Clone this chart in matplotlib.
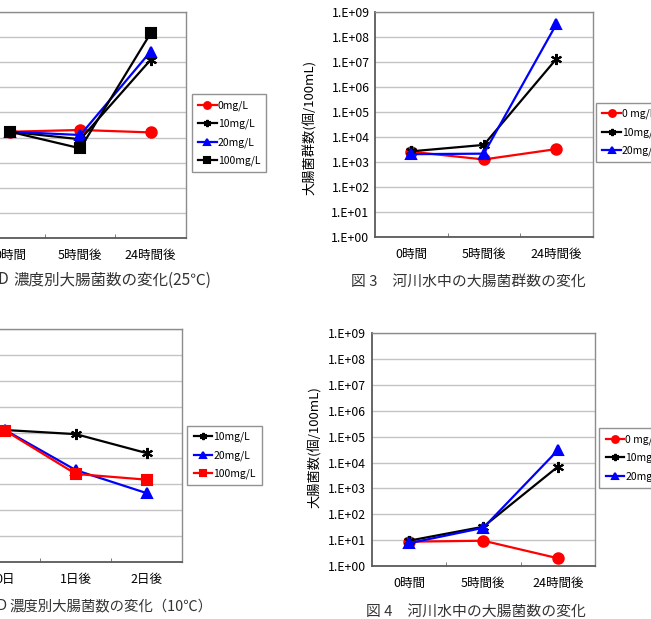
import numpy as np
import matplotlib
matplotlib.use("Agg")
import matplotlib.pyplot as plt
from matplotlib.ticker import FixedLocator, FuncFormatter, NullLocator

plt.rcParams['font.family'] = ['Noto Sans CJK JP', 'DejaVu Sans']

W, H = 651, 619

# --- data ---
time_labels = ['0時間', '5時間後', '24時間後']
day_labels = ['0日', '1日後', '2日後']

# fig 1: 25C, by concentration
f1_names = ['0mg/L', '10mg/L', '20mg/L', '100mg/L']
f1_0mg = [1.7e4, 2.0e4, 1.6e4]
f1_10mg = [1.7e4, 8.5e3, 1.26e7]
f1_20mg = [1.7e4, 1.26e4, 2.7e7]
f1_100mg = [1.7e4, 3.7e3, 1.45e8]

# fig 2: 10C, by concentration
f2_names = ['10mg/L', '20mg/L', '100mg/L']
f2_10mg = [1.26e5, 8.7e4, 1.6e4]
f2_20mg = [1.26e5, 3.5e3, 4.5e2]
f2_100mg = [1.2e5, 2.5e3, 1.5e3]

# fig 3: river water, coliform group
f3_names = ['0 mg/L', '10mg/L', '20mg/L']
f3_0mg = [2.5e3, 1.23e3, 3.2e3]
f3_10mg = [2.6e3, 4.7e3, 1.3e7]
f3_20mg = [2.0e3, 2.1e3, 3.2e8]

# fig 4: river water, E. coli
f4_names = ['0 mg/L', '10mg/L', '20mg/L']
f4_0mg = [8.7, 9.5, 2.0]
f4_10mg = [9.5, 33, 6.9e3]
f4_20mg = [7.6, 30, 3.0e4]

RED, BLACK, BLUE = '#ff0000', '#000000', '#0000ff'
STAR = (6, 2, 0)
CAP = '#333333'


def px_axes(fig, left, top, right, bottom):
    return fig.add_axes([left / W, 1 - bottom / H, (right - left) / W, (bottom - top) / H])


def style_axes(ax, labels):
    ax.set_yscale('log')
    ax.set_ylim(1, 1e9)
    ax.yaxis.set_major_locator(FixedLocator([10.0 ** k for k in range(10)]))
    ax.yaxis.set_minor_locator(NullLocator())
    ax.yaxis.set_major_formatter(FuncFormatter(lambda v, p: f"1.E+{int(round(np.log10(v))):02d}"))
    ax.set_xlim(-0.5, 2.5)
    ax.set_xticks(range(len(labels)))
    ax.set_xticklabels(labels, fontsize=9)
    ax.set_xticks([0.5, 1.5], minor=True)
    ax.tick_params(axis='x', which='major', length=0, pad=8)
    ax.tick_params(axis='x', which='minor', direction='in', length=3, color='#666666')
    ax.tick_params(axis='y', length=0, labelsize=8.8, pad=4)
    ax.grid(axis='y', color='#c4c4c4', linewidth=1.0)
    ax.set_axisbelow(True)
    for s in ['top', 'right']:
        ax.spines[s].set_color('#8c8c8c')
        ax.spines[s].set_linewidth(1.0)
    for s in ['left', 'bottom']:
        ax.spines[s].set_color('#5a5a5a')
        ax.spines[s].set_linewidth(1.3)


def add_series(ax, ys, color, marker, label, ms=7.5):
    ax.plot(range(len(ys)), ys, color=color, marker=marker, markersize=ms,
            markeredgecolor=color, markeredgewidth=1.5, linewidth=1.6,
            label=label, clip_on=False)


def add_legend(ax, x, y):
    leg = ax.legend(loc='upper left', bbox_to_anchor=(x / W, 1 - y / H),
                    bbox_transform=fig.transFigure, fontsize=7.5, frameon=True,
                    fancybox=False, edgecolor='#777777', handlelength=1.8,
                    handletextpad=0.1, labelspacing=0.75, markerscale=0.65,
                    borderpad=0.6, borderaxespad=0)
    leg.get_frame().set_linewidth(1.0)


fig = plt.figure(figsize=(W / 100, H / 100), dpi=100)

# top left (25C)
ax1 = px_axes(fig, -25, 12.3, 185.7, 237.7)
style_axes(ax1, time_labels)
add_series(ax1, f1_0mg, RED, 'o', f1_names[0])
add_series(ax1, f1_10mg, BLACK, STAR, f1_names[1], ms=8)
add_series(ax1, f1_20mg, BLUE, '^', f1_names[2])
add_series(ax1, f1_100mg, BLACK, 's', f1_names[3])
add_legend(ax1, 191.7, 94.3)
fig.text(-3, H - 280, 'D', transform=None, ha='left', va='center',
         fontsize=11.2, color=CAP)
fig.text(13, H - 280, '濃度別大腸菌数の変化(25℃)', transform=None,
         ha='left', va='center', fontsize=11.2, color=CAP)

# top right (fig 3)
ax3 = px_axes(fig, 375, 11.7, 592.7, 236.7)
style_axes(ax3, time_labels)
add_series(ax3, f3_0mg, RED, 'o', f3_names[0])
add_series(ax3, f3_10mg, BLACK, STAR, f3_names[1], ms=8)
add_series(ax3, f3_20mg, BLUE, '^', f3_names[2])
add_legend(ax3, 596, 102.7)
fig.text(310, H - 127, '大腸菌群数(個/100mL)', transform=None, rotation=90,
         ha='center', va='center', fontsize=9.5)
fig.text(468, H - 281.7, '図 3　河川水中の大腸菌群数の変化', transform=None,
         ha='center', va='center', fontsize=10.7, color=CAP)

# bottom left (10C)
ax2 = px_axes(fig, -30.5, 329.3, 182.3, 561.7)
style_axes(ax2, day_labels)
add_series(ax2, f2_10mg, BLACK, STAR, f2_names[0], ms=8)
add_series(ax2, f2_20mg, BLUE, '^', f2_names[1])
add_series(ax2, f2_100mg, RED, 's', f2_names[2])
add_legend(ax2, 187.3, 425.7)
fig.text(-4, H - 606, 'D', transform=None, ha='left', va='center',
         fontsize=10.5, color=CAP)
fig.text(9, H - 606, '濃度別大腸菌数の変化（10℃）', transform=None,
         ha='left', va='center', fontsize=10.4, color=CAP)

# bottom right (fig 4)
ax4 = px_axes(fig, 371.7, 333.3, 595, 566)
style_axes(ax4, time_labels)
add_series(ax4, f4_0mg, RED, 'o', f4_names[0])
add_series(ax4, f4_10mg, BLACK, STAR, f4_names[1], ms=8)
add_series(ax4, f4_20mg, BLUE, '^', f4_names[2])
add_legend(ax4, 599.3, 428.3)
fig.text(315, H - 447, '大腸菌数(個/100mL)', transform=None, rotation=90,
         ha='center', va='center', fontsize=9.5)
fig.text(476, H - 611.7, '図 4　河川水中の大腸菌数の変化', transform=None,
         ha='center', va='center', fontsize=10.7, color=CAP)

fig.savefig('out.png', dpi=100)
